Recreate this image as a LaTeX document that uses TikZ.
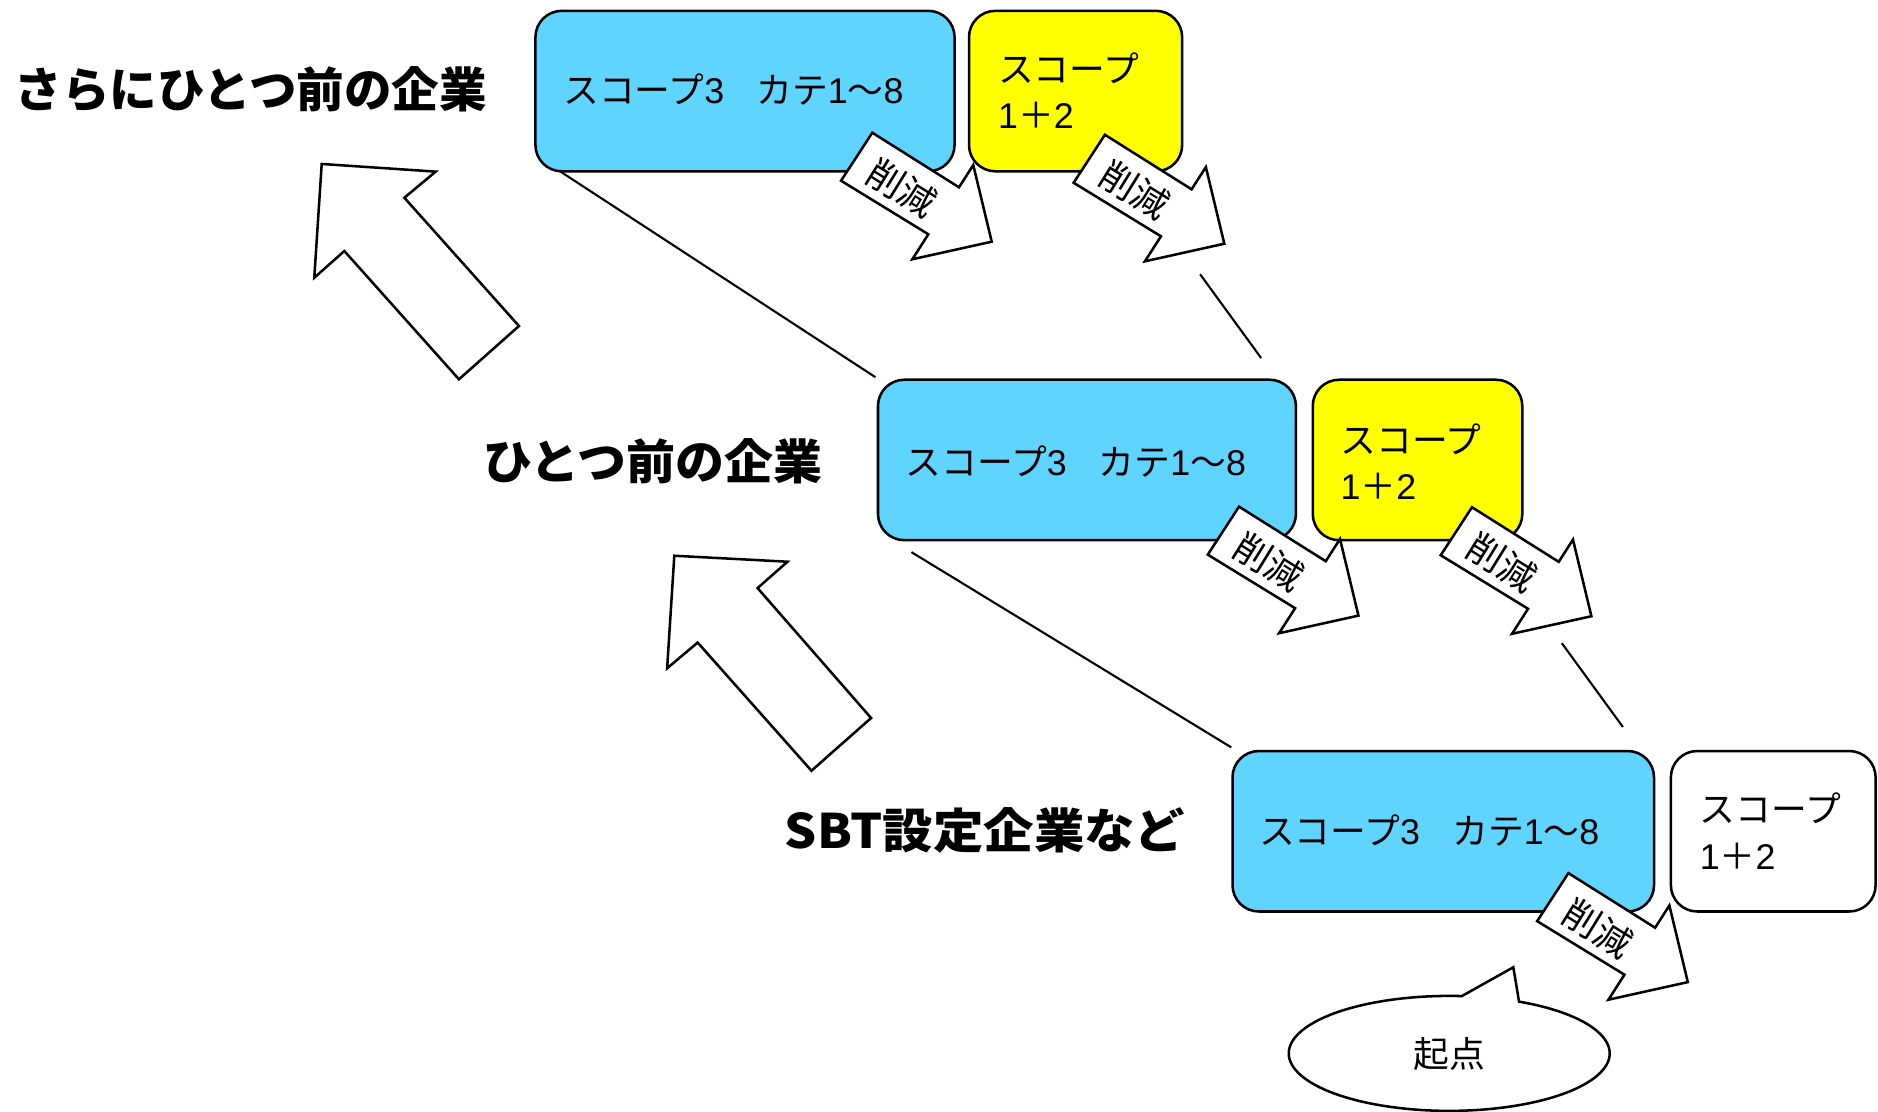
\documentclass[tikz,border=0pt]{standalone}
\usepackage{fontspec}
\setmainfont{Noto Sans CJK JP}
\newfontfamily\latn{Liberation Sans}
\definecolor{scopeblue}{RGB}{94,212,255}
\definecolor{scopeyellow}{RGB}{255,255,0}
\newcommand\dg[1]{{\latn #1}}
\begin{document}
\begin{tikzpicture}[x=0.02cm,y=-0.02cm,
  box/.style={draw=black, line width=1.2pt, rounded corners=0.44cm, anchor=north west,
    minimum height=2.68cm, inner sep=0pt},
  boxtext/.style={anchor=west, inner sep=0pt, align=left,
    font=\fontsize{17}{22}\selectfont},
  lbl/.style={anchor=west, inner sep=0pt, font=\fontsize{22.6}{26}\selectfont\bfseries},
  hollow/.style={draw=black, line width=1.2pt, fill=white, line join=miter},
  conn/.style={draw=black, line width=1pt},
  cuttext/.style={inner sep=0pt, rotate=-31.8, font=\fontsize{17.5}{20}\selectfont},
  bubble/.style={draw=black, line width=1.2pt, fill=white}
]
\useasboundingbox (0,0) rectangle (1568,928);

% labels
\node[lbl] (lab1) at (12,75) {さらにひとつ前の企業};
\node[lbl] (lab2) at (403,385) {\fontspec{Noto Sans CJK JP}[FakeStretch=1.03]ひとつ前の企業};
\node[lbl] (lab3) at (655,693) {\fontspec{Noto Sans CJK JP}[FakeStretch=1.06]SBT設定企業など};

% big hollow arrows
\draw[hollow] (268.6,136.9) -- (363.8,143.3) -- (337.6,165.1) -- (433.3,272.2)
  -- (383.2,316.7) -- (287.5,209.6) -- (262.4,231.9) -- cycle;
\draw[hollow] (563,464) -- (657.5,469) -- (632.5,491) -- (727.3,599.5)
  -- (677.5,643.5) -- (582.5,536.5) -- (557,558) -- cycle;

% connectors
\coordinate (c1a) at (466,142);  \coordinate (c1b) at (731,315);
\coordinate (c2a) at (1002,229); \coordinate (c2b) at (1053,299);
\coordinate (c3a) at (761,461);  \coordinate (c3b) at (1028,624);
\coordinate (c4a) at (1304,537); \coordinate (c4b) at (1355,607);
\draw[conn] (c1a) -- (c1b);
\draw[conn] (c2a) -- (c2b);
\draw[conn] (c3a) -- (c3b);
\draw[conn] (c4a) -- (c4b);

% boxes
\node[box, fill=scopeblue, minimum width=7.00cm] (b1) at (446,8) {};
\node[box, fill=scopeyellow, minimum width=3.56cm] (y1) at (808,8) {};
\node[box, fill=scopeblue, minimum width=6.98cm] (b2) at (732,316) {};
\node[box, fill=scopeyellow, minimum width=3.50cm] (y2) at (1095,316) {};
\node[box, fill=scopeblue, minimum width=7.04cm] (b3) at (1028,626) {};
\node[box, fill=white, minimum width=3.42cm] (w3) at (1394,626) {};

\node[boxtext] (tb1) at (470,75) {スコープ\dg{3}\hspace{0.9em}カテ\dg{1}～\dg{8}};
\node[boxtext] (ty1) at (833,75.5) {スコープ\\\dg{1}＋\dg{2}};
\node[boxtext] (tb2) at (756,385) {スコープ\dg{3}\hspace{0.9em}カテ\dg{1}～\dg{8}};
\node[boxtext] (ty2) at (1119,385.5) {スコープ\\\dg{1}＋\dg{2}};
\node[boxtext] (tb3) at (1051,693) {スコープ\dg{3}\hspace{0.9em}カテ\dg{1}～\dg{8}};
\node[boxtext] (tw3) at (1419,694) {スコープ\\\dg{1}＋\dg{2}};

% reduction arrows
\foreach \px/\py [count=\i] in {728.3/110.8, 922.5/112.5, 1034.5/423, 1229/423.5, 1309.5/729}{
  \begin{scope}[shift={(\px,\py)}]
    \draw[hollow] (0,0) -- (72.4,45.6) -- (84.3,27.0) -- (99.7,91.0) -- (33.4,105.7)
      -- (46.8,84.8) -- (-26.1,40.1) -- cycle;
    \node[cuttext] (cut\i) at (25,46) {削減};
  \end{scope}
}

% start bubble
\draw[bubble] (1263.5,807.6) -- (1268.3,836.3)
  arc[start angle=64.2, end angle=-274.5, x radius=2.68cm, y radius=0.96cm] -- cycle;
\node[inner sep=0pt, font=\fontsize{17}{20}\selectfont] (start) at (1210,880) {起点};
\end{tikzpicture}
\end{document}
